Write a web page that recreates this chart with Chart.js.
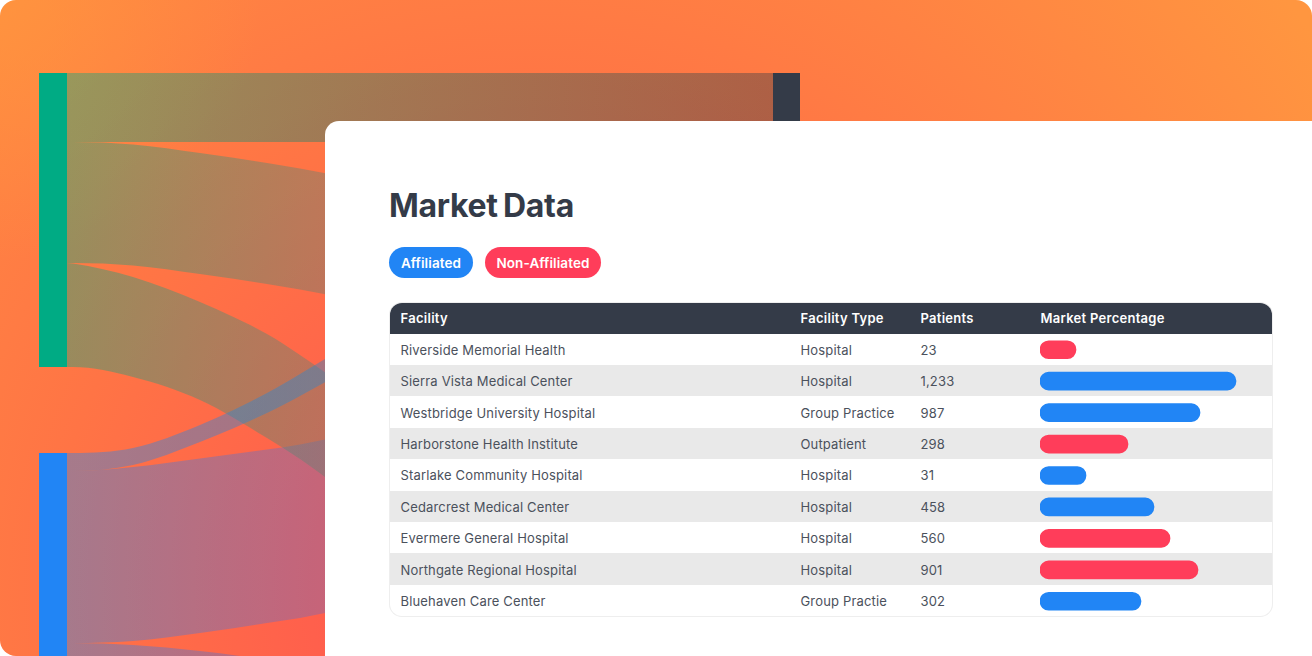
<!DOCTYPE html>
<html lang="en">
<head>
  <meta charset="UTF-8">
  <title>Market Data</title>
  <script src="https://cdn.jsdelivr.net/npm/chart.js"></script>
  <style>
    html, body {
      margin: 0;
      padding: 0;
      background: #fff;
      overflow: hidden;
    }
    body {
      position: relative;
      width: 1312px;
      height: 656px;
      font-family: Inter, "Noto Sans", Arial, sans-serif;
      color: #4b515c;
    }
    #backdrop {
      position: absolute;
      left: 0;
      top: 0;
      width: 1312px;
      height: 656px;
      border-radius: 16px;
      background:
        radial-gradient(circle 260px at 0 0, rgba(255,155,60,0.55), rgba(255,155,60,0) 100%),
        radial-gradient(circle 960px at 530px 590px, #ff4f52 0, #ff7445 50%, #ff9640 100%);
    }
    #flowBox {
      position: absolute;
      left: 0;
      top: 0;
      width: 1312px;
      height: 656px;
    }
    #card {
      position: absolute;
      left: 325px;
      top: 121px;
      width: 987px;
      height: 535px;
      background: #fff;
      border-top-left-radius: 14px;
    }
    h2 {
      position: absolute;
      left: 64px;
      top: 65px;
      margin: 0;
      font-size: 32px;
      line-height: 40px;
      font-weight: 700;
      letter-spacing: -0.3px;
      word-spacing: -2px;
      color: #343b48;
    }
    .pill {
      position: absolute;
      top: 126px;
      height: 31px;
      line-height: 32.5px;
      border-radius: 16px;
      color: #fff;
      font-size: 13.5px;
      font-weight: 600;
      letter-spacing: 0.1px;
      text-align: center;
    }
    #tableBox {
      position: absolute;
      left: 65px;
      top: 182px;
      width: 881.5px;
      height: 312.5px;
      box-shadow: 0 0 0 1px #eeeeee;
      border-radius: 12px;
      overflow: hidden;
    }
    table {
      position: absolute;
      left: 0;
      top: 0;
      width: 881.5px;
      border-collapse: collapse;
      table-layout: fixed;
      font-size: 13px;
      letter-spacing: 0.16px;
    }
    th {
      height: 30.6px;
      padding: 0 0 0 10.5px;
      box-sizing: border-box;
      background: #343b48;
      color: #fff;
      font-weight: 600;
      letter-spacing: 0.28px;
      text-align: left;
    }
    td {
      height: 31.4px;
      padding: 1px 0 0 10.5px;
      box-sizing: border-box;
    }
    tr:nth-child(even) td {
      background: #e9e9e9;
    }
    #barBox {
      position: absolute;
      left: 1040px;
      top: 333.5px;
      width: 200px;
      height: 283px;
    }
  </style>
</head>
<body>
<div id="backdrop"></div>
<div id="flowBox"><canvas id="flowChart" width="1312" height="656"></canvas></div>
<div id="card">
  <h2>Market Data</h2>
  <div class="pill" style="left:64px;width:84px;background:#2185f5;">Affiliated</div>
  <div class="pill" style="left:160px;width:116px;background:#ff3d5a;">Non-Affiliated</div>
  <div id="tableBox">
    <table>
      <colgroup>
        <col style="width:400px"><col style="width:120px"><col style="width:120px"><col>
      </colgroup>
      <thead>
        <tr><th>Facility</th><th>Facility Type</th><th>Patients</th><th>Market Percentage</th></tr>
      </thead>
      <tbody id="rows"></tbody>
    </table>
  </div>
</div>
<div id="barBox"><canvas id="barChart" width="200" height="283"></canvas></div>

<script>
  // table data
  const facilities = [
    "Riverside Memorial Health", "Sierra Vista Medical Center", "Westbridge University Hospital",
    "Harborstone Health Institute", "Starlake Community Hospital", "Cedarcrest Medical Center",
    "Evermere General Hospital", "Northgate Regional Hospital", "Bluehaven Care Center"
  ];
  const facilityTypes = ["Hospital", "Hospital", "Group Practice", "Outpatient", "Hospital", "Hospital", "Hospital", "Hospital", "Group Practie"];
  const patients = [23, 1233, 987, 298, 31, 458, 560, 901, 302];
  const marketPercent = [18, 98, 80, 44, 23, 57, 65, 79, 50.5];
  const affiliated = [false, true, true, false, true, true, false, false, true];

  // flow boundaries (x along the page, y down the page)
  const flowX = [67, 73, 133, 200, 267, 300, 340];
  const flowTwoTop = [142, 142, 144.5, 153, 163, 168.5, 176];
  const flowTwoBottom = [263, 263, 265.5, 274, 284, 289.5, 297];
  const flowThreeTop = [263, 263.5, 277, 302, 334, 355, 383];
  const flowThreeBottom = [367, 367, 377, 400, 438, 459, 488];
  const flowFourTop = [453, 453, 448, 425, 393, 374, 350];
  const flowFourBottom = [471, 471, 465, 442, 413, 396, 374];
  const flowFiveTop = [471, 471, 467, 458.5, 449.5, 444.5, 436.5];
  const flowFiveBottom = [643, 643, 641, 633, 623, 618, 610];
  const flowSixTop = [643, 643, 645, 651, 660, 666, 675];
  const flowSixBottom = [760, 760, 762, 768, 778, 784, 792];

  const straightX = [67, 773];
  const flowOneTop = [73, 73];
  const flowOneBottom = [142, 142];

  const leftNodeX = [39, 67];
  const rightNodeX = [773, 800];
  const greenNode = [73, 367];
  const blueNode = [453, 656];
  const darkNode = [73, 160];

  const GREEN = "0,171,132";
  const BLUE = "33,133,245";
  const RED = "255,61,90";
  const DARK = "52,59,72";
  const TEAL = "30,140,150";

  const flowCtx = document.getElementById("flowChart").getContext("2d");

  function linkGradient(from, to) {
    const g = flowCtx.createLinearGradient(67, 0, 773, 0);
    g.addColorStop(0, `rgba(${from},0.4)`);
    g.addColorStop(1, `rgba(${to},0.4)`);
    return g;
  }

  function zip(xs, ys) {
    return xs.map((x, i) => ({ x: x, y: ys[i] }));
  }

  // a band is an upper line filled down to the line after it
  function band(xs, top, bottom, color) {
    return [
      { data: zip(xs, top), fill: "+1", backgroundColor: color },
      { data: zip(xs, bottom), fill: false }
    ];
  }

  new Chart(flowCtx, {
    type: "line",
    data: {
      datasets: [
        ...band(leftNodeX, greenNode.map(() => greenNode[0]), greenNode.map(() => greenNode[1]), `rgb(${GREEN})`),
        ...band(leftNodeX, blueNode.map(() => blueNode[0]), blueNode.map(() => blueNode[1]), `rgb(${BLUE})`),
        ...band(rightNodeX, darkNode.map(() => darkNode[0]), darkNode.map(() => darkNode[1]), `rgb(${DARK})`),
        ...band(flowX, flowFourTop, flowFourBottom, linkGradient(BLUE, TEAL)),
        ...band(straightX, flowOneTop, flowOneBottom, linkGradient(GREEN, DARK)),
        ...band(flowX, flowTwoTop, flowTwoBottom, linkGradient(GREEN, RED)),
        ...band(flowX, flowThreeTop, flowThreeBottom, linkGradient(GREEN, RED)),
        ...band(flowX, flowFiveTop, flowFiveBottom, linkGradient(BLUE, RED)),
        ...band(flowX, flowSixTop, flowSixBottom, linkGradient(BLUE, RED))
      ]
    },
    options: {
      responsive: false,
      animation: false,
      layout: { padding: 0 },
      elements: {
        point: { radius: 0 },
        line: { borderWidth: 0, cubicInterpolationMode: "monotone" }
      },
      plugins: { legend: { display: false }, tooltip: { enabled: false } },
      scales: {
        x: { type: "linear", min: 0, max: 1312, display: false },
        y: { type: "linear", min: 0, max: 656, reverse: true, display: false }
      }
    }
  });

  document.getElementById("rows").innerHTML = facilities.map((name, i) =>
    `<tr><td>${name}</td><td>${facilityTypes[i]}</td><td>${patients[i].toLocaleString("en-US")}</td><td></td></tr>`
  ).join("");

  new Chart(document.getElementById("barChart"), {
    type: "bar",
    data: {
      labels: facilities,
      datasets: [{
        data: marketPercent,
        backgroundColor: affiliated.map(a => a ? "#2185f5" : "#ff3d5a"),
        barThickness: 18,
        borderRadius: 9,
        borderSkipped: false
      }]
    },
    options: {
      indexAxis: "y",
      responsive: false,
      animation: false,
      layout: { padding: 0 },
      plugins: { legend: { display: false }, tooltip: { enabled: false } },
      scales: {
        x: { min: 0, max: 100, display: false },
        y: { display: false }
      }
    }
  });
</script>
</body>
</html>
